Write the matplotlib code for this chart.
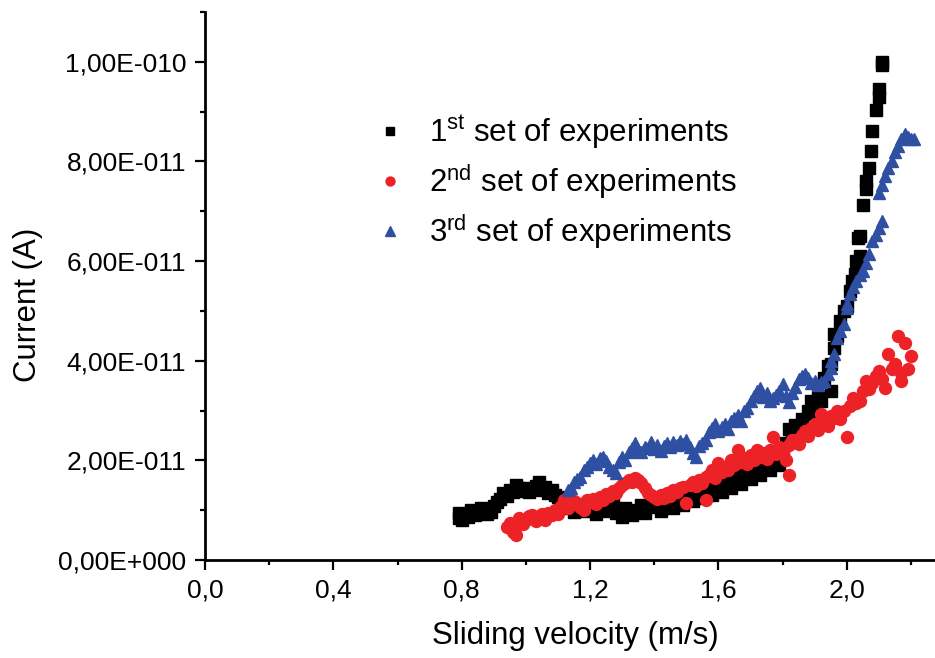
import matplotlib
matplotlib.use('Agg')
from matplotlib import pyplot as plt
from matplotlib.ticker import FixedLocator, MultipleLocator

# values, current in units of 1e-11 A
set1_v = [0.79, 0.79, 0.80, 0.81, 0.82, 0.83, 0.84, 0.85, 0.86, 0.87, 0.88, 0.89, 0.90, 0.91, 0.92,
          0.93, 0.94, 0.95, 0.96, 0.97, 0.98, 0.99, 1.00, 1.01, 1.02, 1.03, 1.04, 1.05, 1.06, 1.07,
          1.08, 1.09, 1.10, 1.11, 1.12, 1.13, 1.15, 1.16, 1.18, 1.19, 1.21, 1.22, 1.24, 1.25, 1.27,
          1.28, 1.30, 1.31, 1.33, 1.34, 1.36, 1.37, 1.39, 1.40, 1.42, 1.43, 1.45, 1.46, 1.48, 1.49,
          1.51, 1.52, 1.54, 1.55, 1.57, 1.58, 1.60, 1.61, 1.63, 1.64, 1.66, 1.67, 1.69, 1.70, 1.72,
          1.73, 1.75, 1.76, 1.78, 1.79, 1.80, 1.81, 1.82, 1.83, 1.84, 1.86, 1.88, 1.89, 1.90, 1.91,
          1.92, 1.93, 1.94, 1.95, 1.95, 1.96, 1.96, 1.97, 1.98, 1.99, 2.00, 2.01, 2.016, 2.025, 2.03,
          2.04, 2.034, 2.04, 2.05, 2.06, 2.06, 2.07, 2.075, 2.08, 2.09, 2.10, 2.10, 2.11, 2.11]
set1_i = [0.94, 0.84, 0.80, 0.92, 0.86, 1.00, 0.90, 0.96, 1.04, 0.98, 0.92, 0.96, 1.08, 1.16, 1.22,
          1.34, 1.28, 1.40, 1.36, 1.50, 1.44, 1.38, 1.44, 1.36, 1.42, 1.48, 1.56, 1.40, 1.46, 1.34,
          1.40, 1.30, 1.26, 1.18, 1.10, 1.04, 0.96, 1.08, 0.98, 1.12, 1.04, 0.92, 1.08, 0.98, 1.12,
          0.94, 0.86, 1.04, 0.90, 1.00, 1.10, 0.94, 1.06, 1.14, 0.98, 1.12, 1.20, 1.04, 1.26, 1.10,
          1.32, 1.18, 1.40, 1.24, 1.46, 1.30, 1.52, 1.36, 1.60, 1.44, 1.70, 1.52, 1.78, 1.62, 1.86,
          1.70, 1.94, 1.80, 2.06, 1.90, 2.20, 2.34, 2.64, 2.50, 2.72, 2.84, 3.00, 3.20, 2.94, 3.30,
          3.20, 3.66, 3.90, 3.40, 3.94, 4.26, 4.54, 4.50, 4.80, 5.00, 5.10, 5.40, 5.60, 5.74, 6.00,
          6.10, 6.46, 6.50, 7.12, 7.44, 7.60, 7.86, 8.22, 8.62, 9.04, 9.30, 9.46, 9.94, 10.0]

set2_v = [0.94, 0.95, 0.96, 0.97, 0.97, 0.98, 0.99, 1.00, 1.01, 1.02, 1.03, 1.04, 1.05, 1.06, 1.07,
          1.08, 1.09, 1.10, 1.11, 1.12, 1.13, 1.14, 1.15, 1.16, 1.17, 1.18, 1.19, 1.20, 1.21, 1.22,
          1.23, 1.24, 1.25, 1.26, 1.27, 1.28, 1.29, 1.30, 1.31, 1.32, 1.33, 1.34, 1.35, 1.36, 1.37,
          1.38, 1.39, 1.40, 1.41, 1.42, 1.43, 1.44, 1.45, 1.46, 1.47, 1.48, 1.49, 1.50, 1.51, 1.52,
          1.53, 1.54, 1.55, 1.56, 1.56, 1.57, 1.58, 1.59, 1.60, 1.61, 1.62, 1.63, 1.64, 1.65, 1.66,
          1.67, 1.68, 1.69, 1.70, 1.71, 1.72, 1.73, 1.74, 1.75, 1.76, 1.77, 1.78, 1.79, 1.80, 1.81,
          1.82, 1.82, 1.83, 1.84, 1.85, 1.86, 1.87, 1.88, 1.89, 1.90, 1.91, 1.92, 1.93, 1.94, 1.95,
          1.96, 1.97, 1.98, 1.99, 2.00, 2.01, 2.02, 2.03, 2.04, 2.05, 2.06, 2.07, 2.08, 2.09, 2.10,
          2.11, 2.12, 2.13, 2.14, 2.15, 2.16, 2.17, 2.17, 2.18, 2.19, 2.20]
set2_i = [0.66, 0.74, 0.56, 0.50, 0.70, 0.84, 0.72, 0.80, 0.88, 0.90, 0.78, 0.86, 0.92, 0.80, 0.94,
          0.90, 1.00, 0.92, 1.08, 1.20, 1.04, 1.12, 1.18, 1.14, 1.06, 1.00, 1.20, 1.16, 1.22, 1.12,
          1.26, 1.20, 1.32, 1.28, 1.38, 1.34, 1.44, 1.50, 1.54, 1.60, 1.56, 1.64, 1.60, 1.54, 1.44,
          1.34, 1.30, 1.26, 1.22, 1.30, 1.24, 1.34, 1.28, 1.40, 1.36, 1.44, 1.46, 1.14, 1.50, 1.56,
          1.48, 1.60, 1.54, 1.66, 1.20, 1.70, 1.80, 1.64, 1.94, 1.76, 1.86, 1.80, 2.00, 1.90, 2.20,
          1.96, 2.04, 1.92, 2.10, 2.00, 2.20, 2.06, 2.14, 2.02, 2.20, 2.46, 2.12, 2.26, 2.16, 2.00,
          1.70, 2.30, 2.40, 2.40, 2.32, 2.50, 2.60, 2.48, 2.66, 2.74, 2.62, 2.94, 2.80, 2.70, 2.90,
          2.86, 3.00, 2.84, 3.00, 2.46, 3.10, 3.26, 3.16, 3.20, 3.40, 3.60, 3.44, 3.56, 3.70, 3.80,
          3.64, 3.46, 4.14, 3.84, 3.94, 4.50, 3.60, 3.76, 4.36, 3.84, 4.10]

set3_v = [1.13, 1.14, 1.15, 1.16, 1.17, 1.18, 1.19, 1.20, 1.21, 1.22, 1.23, 1.24, 1.25, 1.26, 1.27,
          1.28, 1.29, 1.30, 1.31, 1.32, 1.33, 1.34, 1.35, 1.36, 1.37, 1.38, 1.39, 1.40, 1.41, 1.42,
          1.43, 1.44, 1.45, 1.46, 1.47, 1.48, 1.49, 1.50, 1.51, 1.52, 1.53, 1.54, 1.55, 1.56, 1.57,
          1.58, 1.59, 1.60, 1.61, 1.62, 1.63, 1.64, 1.65, 1.66, 1.67, 1.68, 1.69, 1.70, 1.71, 1.72,
          1.73, 1.74, 1.75, 1.76, 1.77, 1.78, 1.79, 1.80, 1.81, 1.82, 1.83, 1.84, 1.85, 1.86, 1.87,
          1.88, 1.89, 1.90, 1.91, 1.92, 1.93, 1.94, 1.95, 1.95, 1.96, 1.97, 1.98, 1.99, 2.00, 2.00,
          2.01, 2.02, 2.03, 2.04, 2.05, 2.06, 2.07, 2.08, 2.09, 2.10, 2.11, 2.10, 2.11, 2.12, 2.13,
          2.14, 2.15, 2.16, 2.17, 2.18, 2.19, 2.20, 2.21]
set3_i = [1.40, 1.44, 1.56, 1.62, 1.66, 1.80, 1.86, 1.94, 2.00, 1.92, 2.04, 2.06, 1.98, 1.86, 1.80,
          1.74, 1.96, 2.06, 2.00, 2.16, 2.24, 2.34, 2.20, 2.16, 2.26, 2.24, 2.36, 2.22, 2.30, 2.18,
          2.28, 2.34, 2.26, 2.36, 2.30, 2.38, 2.32, 2.40, 2.26, 2.14, 2.06, 2.28, 2.34, 2.40, 2.56,
          2.66, 2.74, 2.60, 2.68, 2.74, 2.64, 2.80, 2.86, 2.92, 2.80, 3.00, 3.06, 3.20, 3.30, 3.40,
          3.46, 3.28, 3.36, 3.20, 3.26, 3.32, 3.40, 3.54, 3.30, 3.18, 3.36, 3.48, 3.64, 3.70, 3.74,
          3.66, 3.56, 3.60, 3.52, 3.58, 3.60, 3.74, 3.86, 4.00, 4.14, 4.46, 4.60, 4.74, 5.06, 5.14,
          5.34, 5.48, 5.60, 5.72, 5.80, 5.96, 6.14, 6.40, 6.52, 6.66, 6.80, 7.36, 7.52, 7.70, 7.86,
          8.00, 8.20, 8.32, 8.46, 8.56, 8.50, 8.46, 8.46]

series_names = ['$\\mathregular{1^{st}}$ set of experiments',
                '$\\mathregular{2^{nd}}$ set of experiments',
                '$\\mathregular{3^{rd}}$ set of experiments']

x_ticks = [0.0, 0.4, 0.8, 1.2, 1.6, 2.0]
x_tick_labels = ['0,0', '0,4', '0,8', '1,2', '1,6', '2,0']
y_ticks = [0.0, 2e-11, 4e-11, 6e-11, 8e-11, 1e-10]
y_tick_labels = ['0,00E+000', '2,00E-011', '4,00E-011', '6,00E-011', '8,00E-011', '1,00E-010']

plt.rcParams['font.family'] = 'Liberation Sans'
plt.rcParams['mathtext.fontset'] = 'custom'
plt.rcParams['mathtext.rm'] = 'Liberation Sans'
plt.rcParams['mathtext.it'] = 'Liberation Sans:italic'
plt.rcParams['mathtext.bf'] = 'Liberation Sans:bold'

fig = plt.figure(figsize=(9.35, 6.58), dpi=100)
ax = fig.add_axes([0.2193, 0.1489, 0.7807, 0.8328])

scale = 1e-11
ax.plot(set1_v, [i * scale for i in set1_i], ls='none', marker='s', ms=8.2,
        color='black', label=series_names[0])
ax.plot(set2_v, [i * scale for i in set2_i], ls='none', marker='o', ms=8.6,
        color='#ed2227', label=series_names[1])
ax.plot(set3_v, [i * scale for i in set3_i], ls='none', marker='^', ms=9.2,
        color='#2f4fa2', label=series_names[2])

ax.set_xlim(0, 2.275)
ax.set_ylim(0, 1.1e-10)

ax.xaxis.set_major_locator(FixedLocator(x_ticks))
ax.set_xticklabels(x_tick_labels)
ax.xaxis.set_minor_locator(MultipleLocator(0.2))
ax.yaxis.set_major_locator(FixedLocator(y_ticks))
ax.set_yticklabels(y_tick_labels)
ax.yaxis.set_minor_locator(MultipleLocator(1e-11))

for side in ['top', 'right']:
    ax.spines[side].set_visible(False)
for side in ['left', 'bottom']:
    ax.spines[side].set_linewidth(2.0)

ax.tick_params(axis='both', which='major', direction='out', length=7.5, width=1.6,
               labelsize=19, pad=6)
ax.tick_params(axis='both', which='minor', direction='out', length=3.8, width=1.6)

ax.set_xlabel('Sliding velocity (m/s)', fontsize=22.5)
ax.set_ylabel('Current (A)', fontsize=22.5)
ax.xaxis.set_label_coords(0.507, -0.112)
ax.yaxis.set_label_coords(-0.222, 0.465)

ax.legend(loc='upper left', bbox_to_anchor=(0.4086, 0.828), bbox_transform=fig.transFigure,
          frameon=False, fontsize=22.5, markerscale=0.75, handlelength=0.5,
          handletextpad=1.0, borderpad=0, borderaxespad=0, labelspacing=0.35)

fig.savefig('out.png', dpi=100)
